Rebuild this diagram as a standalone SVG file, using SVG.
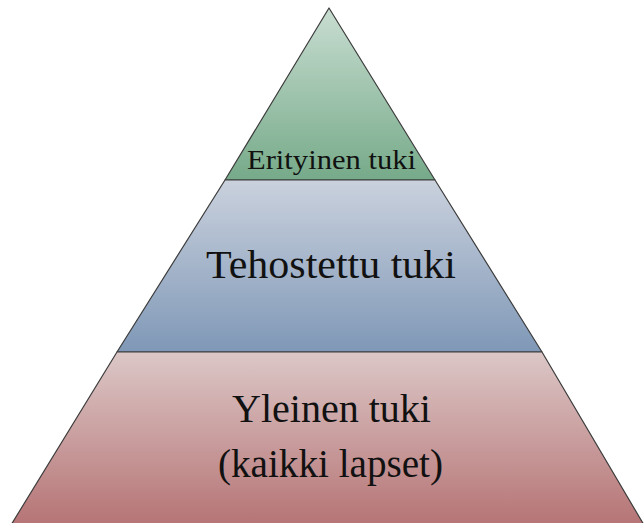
<svg xmlns="http://www.w3.org/2000/svg" width="644" height="523" viewBox="0 0 644 523">
<defs>
<linearGradient id="gTop" x1="0" y1="0" x2="0" y2="1">
<stop offset="0" stop-color="#c8ddd1"/><stop offset="1" stop-color="#76aa89"/>
</linearGradient>
<linearGradient id="gMid" x1="0" y1="0" x2="0" y2="1">
<stop offset="0" stop-color="#cad1dd"/><stop offset="1" stop-color="#7f98b7"/>
</linearGradient>
<linearGradient id="gBot" x1="0" y1="0" x2="0" y2="1">
<stop offset="0" stop-color="#dcc7c7"/><stop offset="1" stop-color="#b67475"/>
</linearGradient>
</defs>
<style>
.lvl{stroke:#3c3c3c;stroke-width:1.2;stroke-linejoin:round}
.t{fill:#111;text-anchor:middle}
</style>
<g id="erityinen">
<polygon class="lvl" fill="url(#gTop)" points="329,8 435,180 225,180"/>
<text class="t" font-family="'Liberation Serif', serif" x="331.5" y="169" font-size="28" textLength="169" lengthAdjust="spacingAndGlyphs">Erityinen tuki</text>
</g>
<g id="tehostettu">
<polygon class="lvl" fill="url(#gMid)" points="225,180 435,180 542,352 117,352"/>
<text class="t" font-family="'Liberation Serif', serif" x="331" y="278" font-size="40" textLength="250" lengthAdjust="spacingAndGlyphs">Tehostettu tuki</text>
</g>
<g id="yleinen">
<polygon class="lvl" fill="url(#gBot)" points="117,352 542,352 644,525 11,525"/>
<text class="t" font-family="'Liberation Serif', serif" x="331.5" y="422" font-size="40" textLength="199" lengthAdjust="spacingAndGlyphs">Yleinen tuki</text>
<text class="t" font-family="'Liberation Serif', serif" x="330.5" y="477" font-size="40" textLength="225" lengthAdjust="spacingAndGlyphs">(kaikki lapset)</text>
</g>
<g id="connectors"/>
</svg>
